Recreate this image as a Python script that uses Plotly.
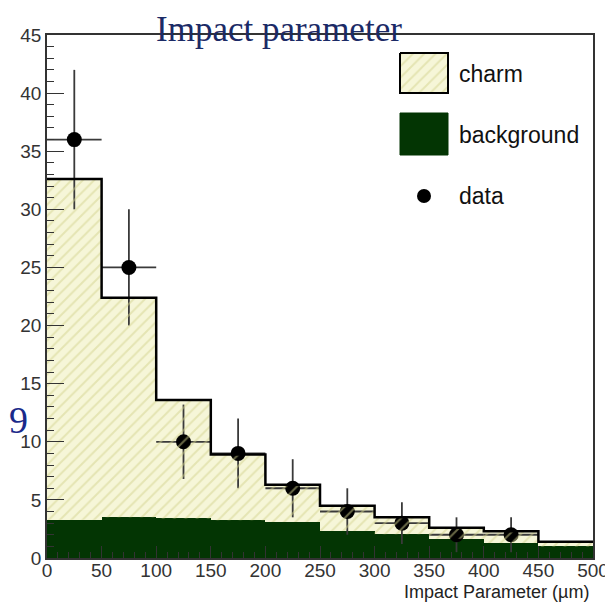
import plotly.graph_objects as go

# ---------------- data ----------------
bin_edges = [0, 50, 100, 150, 200, 250, 300, 350, 400, 450, 500]
total_charm = [32.6, 22.4, 13.6, 8.9, 6.3, 4.5, 3.5, 2.6, 2.3, 1.4]   # charm + background (stack top)
background = [3.3, 3.5, 3.4, 3.25, 3.1, 2.35, 2.05, 1.65, 1.3, 1.0]
data_x = [25, 75, 125, 175, 225, 275, 325, 375, 425]
data_y = [36, 25, 10, 9, 6, 4, 3, 2, 2]
data_err = [6, 5, 3.2, 3.0, 2.5, 2.0, 1.8, 1.5, 1.5]
data_xerr = [25, 25, 25, 25, 25, 25, 25, 25, 25]
x_ticks = [0, 50, 100, 150, 200, 250, 300, 350, 400, 450, 500]
y_ticks = [0, 5, 10, 15, 20, 25, 30, 35, 40, 45]

# ---------------- style ----------------
OFF = 8                      # default body margin of the page
W, H = 613 - OFF, 605 - OFF  # figure size so that it fits the window
L, R, T, B = 47, 593, 35, 558  # plot area in window pixels
YELLOW = "#f6f6d8"
HATCH = "#d3d38e"
GREEN = "#033503"
SANS = "Liberation Sans, Arial, sans-serif"
SERIF = "Liberation Serif, Times New Roman, serif"


def px(x):
    return (x - L) / (R - L)


def py(y):
    return (B - y) / (B - T)


centers = [(a + b) / 2 for a, b in zip(bin_edges[:-1], bin_edges[1:])]
widths = [b - a for a, b in zip(bin_edges[:-1], bin_edges[1:])]

# step paths built from the histogram arrays
step_x, step_top, step_bot = [], [], []
for i in range(len(total_charm)):
    step_x += [bin_edges[i], bin_edges[i + 1]]
    step_top += [total_charm[i], total_charm[i]]
    step_bot += [background[i], background[i]]

fig = go.Figure()

# charm (total) fill and background fill as bars
fig.add_trace(go.Bar(x=centers, y=total_charm, width=widths, marker=dict(color=YELLOW, line=dict(width=0)),
                     showlegend=False, hoverinfo="skip"))
fig.add_trace(go.Bar(x=centers, y=background, width=widths, marker=dict(color=GREEN, line=dict(width=0)),
                     showlegend=False, hoverinfo="skip"))

# data points
fig.add_trace(go.Scatter(
    x=data_x, y=data_y, mode="markers",
    marker=dict(color="black", size=15),
    error_y=dict(type="data", array=data_err, color="#3a3a3a", thickness=1.8, width=0),
    error_x=dict(type="data", array=data_xerr, color="#3a3a3a", thickness=1.8, width=0),
    showlegend=False,
))

# hatch overlay on the charm part (drawn above the points, as in the reference)
fig.add_trace(go.Scatter(
    x=step_x + step_x[::-1], y=step_top + step_bot[::-1],
    fill="toself", mode="none", fillcolor="rgba(0,0,0,0)",
    fillpattern=dict(shape="/", fgcolor=HATCH, bgcolor="rgba(0,0,0,0)", size=8, solidity=0.25),
    showlegend=False, hoverinfo="skip",
))

# outline of the stack
fig.add_trace(go.Scatter(x=step_x, y=step_top, mode="lines", line=dict(color="black", width=2.5),
                         showlegend=False, hoverinfo="skip"))

# ---- legend swatches drawn on an overlay axis in paper fractions ----
sw_l, sw_r = px(400), px(448)
box_x = [sw_l, sw_r, sw_r, sw_l, sw_l]
charm_y = [py(53), py(53), py(93), py(93), py(53)]
bkg_y = [py(113), py(113), py(155), py(155), py(113)]
fig.add_trace(go.Scatter(
    x=box_x, y=charm_y, xaxis="x2", yaxis="y2", mode="none", fill="toself", fillcolor=YELLOW,
    showlegend=False, hoverinfo="skip"))
fig.add_trace(go.Scatter(
    x=box_x, y=charm_y, xaxis="x2", yaxis="y2", mode="none", fill="toself", fillcolor="rgba(0,0,0,0)",
    fillpattern=dict(shape="/", fgcolor=HATCH, bgcolor="rgba(0,0,0,0)", size=8, solidity=0.25),
    showlegend=False, hoverinfo="skip"))
fig.add_trace(go.Scatter(
    x=box_x, y=charm_y, xaxis="x2", yaxis="y2", mode="lines",
    line=dict(color="black", width=2), showlegend=False, hoverinfo="skip"))
fig.add_trace(go.Scatter(
    x=box_x, y=bkg_y, xaxis="x2", yaxis="y2", mode="lines", fill="toself", fillcolor=GREEN,
    line=dict(color=GREEN, width=1), showlegend=False, hoverinfo="skip"))
fig.add_trace(go.Scatter(
    x=[px(424)], y=[py(196)], xaxis="x2", yaxis="y2", mode="markers",
    marker=dict(color="black", size=14), showlegend=False, hoverinfo="skip"))

annotations = [
    dict(text="charm", x=px(457), y=py(74), xanchor="left", yanchor="middle"),
    dict(text="background", x=px(457), y=py(135), xanchor="left", yanchor="middle"),
    dict(text="data", x=px(457), y=py(196), xanchor="left", yanchor="middle"),
]
annotations = [dict(a, xref="paper", yref="paper", showarrow=False,
                    font=dict(family=SANS, size=23, color="#111")) for a in annotations]
annotations.append(dict(text="Impact parameter", x=px(279), y=py(29), xref="paper", yref="paper",
                        xanchor="center", yanchor="middle", showarrow=False,
                        font=dict(family=SERIF, size=35, color="#1b2a66")))
annotations.append(dict(text="99", x=px(30), y=py(420), xref="paper", yref="paper",
                        xanchor="right", yanchor="middle", showarrow=False,
                        font=dict(family=SERIF, size=38, color="#1a2a8a")))
annotations.append(dict(text="Impact Parameter (µm)", x=px(591), y=py(592), xref="paper", yref="paper",
                        xanchor="right", yanchor="middle", showarrow=False,
                        font=dict(family=SANS, size=18, color="#222")))

fig.update_layout(
    width=W, height=H,
    margin=dict(l=L - OFF, r=(W + OFF) - R, t=T - OFF, b=(H + OFF) - B, pad=0, autoexpand=False),
    paper_bgcolor="white", plot_bgcolor="white",
    barmode="overlay", bargap=0,
    showlegend=False,
    annotations=annotations,
    xaxis=dict(range=[0, 500], tickvals=x_ticks, ticktext=[str(v) for v in x_ticks],
               ticks="inside", ticklen=12, tickcolor="#333", tickwidth=1.2,
               minor=dict(ticks="inside", ticklen=6, dtick=10, tickcolor="#333"),
               showline=True, linecolor="#333", linewidth=1.5, mirror=True,
               showgrid=False, zeroline=False, ticklabelstandoff=-6,
               tickfont=dict(family=SANS, size=19, color="#333")),
    yaxis=dict(range=[0, 45], tickvals=y_ticks, ticktext=[str(v) for v in y_ticks],
               ticks="inside", ticklen=17, tickcolor="#333", tickwidth=1.2,
               minor=dict(ticks="inside", ticklen=7, dtick=1, tickcolor="#333"),
               showline=True, linecolor="#333", linewidth=1.5, mirror=True,
               showgrid=False, zeroline=False,
               tickfont=dict(family=SANS, size=19, color="#333")),
    xaxis2=dict(range=[0, 1], overlaying="x", visible=False, anchor="y2"),
    yaxis2=dict(range=[0, 1], overlaying="y", visible=False, anchor="x2"),
)

fig.write_html("out.html")
